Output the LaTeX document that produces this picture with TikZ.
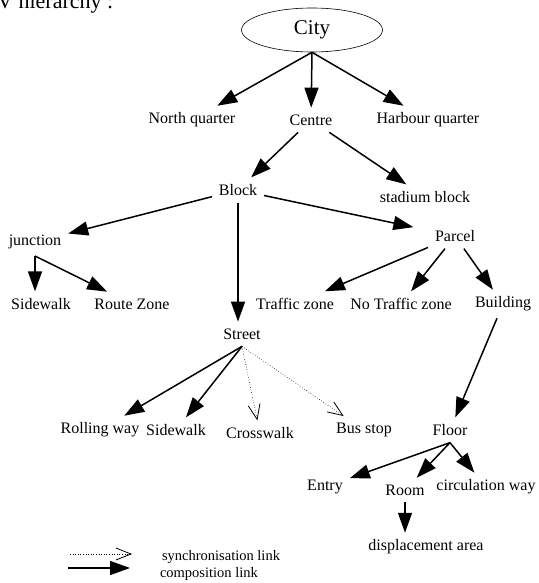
\documentclass[tikz,border=0pt]{standalone}
\usepackage{fontspec}
\setmainfont{Liberation Serif}
\usetikzlibrary{arrows.meta,shapes.geometric}
\tikzset{
  lbl/.style={inner sep=2pt,outer sep=5pt,font=\fontsize{16}{18}\selectfont},
  cityel/.style={ellipse,draw,line width=0.6pt,minimum width=141pt,minimum height=44pt,inner sep=0pt,font=\fontsize{21}{24}\selectfont},
  comp/.style={line width=1.5pt,-{Triangle[length=20pt,width=14pt]}},
  sync/.style={line width=0.6pt,dotted,-{Straight Barb[length=15pt,width=12pt,line width=0.8pt]}}
}
\begin{document}
\begin{tikzpicture}[x=1pt,y=-1pt]
\useasboundingbox (0,0) rectangle (538,583);
\node[anchor=base west,inner sep=0pt,font=\fontsize{22}{24}\selectfont] (title) at (-3,9) {V hierarchy :};
\path
node[cityel] (city) at (312,30) {City}
node[lbl] (nq) at (192,120) {North quarter}
node[lbl] (centre) at (311,120) {Centre}
node[lbl] (hq) at (428,120) {Harbour quarter}
node[lbl] (block) at (238,190) {Block}
node[lbl] (stad) at (425,197) {stadium block}
node[lbl] (junc) at (35,242) {junction}
node[lbl] (parcel) at (455,236) {Parcel}
node[lbl] (sw1) at (41,304) {Sidewalk}
node[lbl] (route) at (132,304) {Route Zone}
node[lbl] (traffic) at (295,304) {Traffic zone}
node[lbl] (notraffic) at (401,304) {No Traffic zone}
node[lbl] (build) at (503,304) {Building}
node[lbl] (street) at (242,334) {Street}
node[lbl] (rolling) at (100,430) {Rolling way}
node[lbl] (sw2) at (176,430) {Sidewalk}
node[lbl] (cross) at (260,433) {Crosswalk}
node[lbl] (bus) at (364,430) {Bus stop}
node[lbl] (floor) at (450,430) {Floor}
node[lbl] (entry) at (325,487) {Entry}
node[lbl] (room) at (405,490) {Room}
node[lbl] (circ) at (486,487) {circulation way}
node[lbl] (disp) at (426,547) {displacement area};
% composition links
\draw[comp] (city.south) -- (nq);
\draw[comp] (city.south) -- (centre);
\draw[comp] (city.south) -- (hq);
\draw[comp] (centre) -- (block);
\draw[comp] (centre) -- (stad);
\draw[comp] (block) -- (junc);
\draw[comp] (block.south) -- (block.south |- street.north);
\draw[comp,shorten >=15pt] (block) -- (parcel);
\draw[comp] (junc.south) -- (junc.south |- sw1.north);
\draw[comp] (junc.south) -- (route);
\draw[comp] (parcel) -- (traffic);
\draw[comp] (parcel) -- (notraffic);
\draw[comp] (parcel) -- (build);
\draw[comp] (street.south) -- (rolling);
\draw[comp] (street.south) -- (sw2);
\draw[comp] (build) -- (floor);
\draw[comp] (floor.south) -- (entry);
\draw[comp] (floor.south) -- (room);
\draw[comp] (floor.south) -- (circ);
\draw[comp] (room.south) -- (room.south |- disp.north);
% synchronisation links
\draw[sync] (street.south) -- (cross);
\draw[sync] (street.south) -- (bus);
% legend
\coordinate (ls1) at (70,554);
\coordinate (ls2) at (132,554);
\coordinate (lc1) at (68,568);
\coordinate (lc2) at (130,568);
\draw[sync] (ls1) -- (ls2);
\draw[comp] (lc1) -- (lc2);
\node[lbl,anchor=west,inner sep=0pt,outer sep=0pt,font=\fontsize{14.5}{16}\selectfont] (lsync) at (162,557) {synchronisation link};
\node[lbl,anchor=west,inner sep=0pt,outer sep=0pt,font=\fontsize{14.5}{16}\selectfont] (lcomp) at (160,574) {composition link};
\end{tikzpicture}
\end{document}
